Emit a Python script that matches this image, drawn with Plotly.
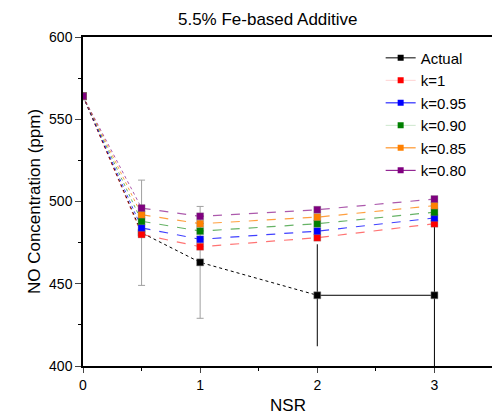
import plotly.graph_objects as go

nsr = [0, 0.5, 1, 2, 3]
actual = [564, 481, 463, 443, 443]
actual_err = [0, 32, 34, 31, 45]
k_labels = ["k=1", "k=0.95", "k=0.90", "k=0.85", "k=0.80"]
k_values = [
    [564, 480, 472.5, 478, 486.5],
    [564, 484, 477, 482, 490],
    [564, 488, 482, 486.5, 493.5],
    [564, 492, 486.5, 490.5, 497.5],
    [564, 496, 491, 495, 501.5],
]
k_colors = ["#ff0000", "#0000ff", "#008000", "#ff8000", "#800080"]
k_plot_line = ["rgba(255,0,0,0.55)", "rgba(0,0,255,0.75)", "rgba(0,128,0,0.6)",
               "rgba(255,128,0,0.75)", "rgba(128,0,128,0.65)"]
k_legend_line = ["rgba(255,0,0,0.18)", "#0000ff", "rgba(0,128,0,0.2)", "#ff8000", "#800080"]

FONT = "Arial, Liberation Sans, sans-serif"
fig = go.Figure()

# error bars (gray for first points, black for later)
fig.add_trace(go.Scatter(
    x=nsr[:3], y=actual[:3], mode="markers",
    marker=dict(color="rgba(0,0,0,0)", size=1),
    error_y=dict(type="data", array=actual_err[:3], color="#a0a0a0", thickness=1, width=3.5),
    showlegend=False, hoverinfo="skip"))
fig.add_trace(go.Scatter(
    x=nsr[3:], y=actual[3:], mode="markers",
    marker=dict(color="rgba(0,0,0,0)", size=1),
    error_y=dict(type="data", array=actual_err[3:], color="#000000", thickness=1, width=0),
    showlegend=False, hoverinfo="skip"))

# actual lines: dotted up to NSR=2, solid from 2 to 3
fig.add_trace(go.Scatter(x=nsr[:4], y=actual[:4], mode="lines",
                         line=dict(color="#000000", width=1, dash="dot"),
                         showlegend=False, hoverinfo="skip"))
fig.add_trace(go.Scatter(x=nsr[3:], y=actual[3:], mode="lines",
                         line=dict(color="#000000", width=1),
                         showlegend=False, hoverinfo="skip"))

fig.add_trace(go.Scatter(x=nsr, y=actual, mode="markers",
                         marker=dict(symbol="square", size=7, color="#000000",
                                     line=dict(color="#888888", width=0.5)),
                         showlegend=False, name="Actual"))

# k series
for lab, vals, pc in zip(k_labels, k_values, k_plot_line):
    fig.add_trace(go.Scatter(x=nsr[:2], y=vals[:2], mode="lines",
                             line=dict(color=pc, width=1, dash="dot"),
                             showlegend=False, hoverinfo="skip"))
    fig.add_trace(go.Scatter(x=nsr[1:], y=vals[1:], mode="lines",
                             line=dict(color=pc, width=1.2, dash="dash"),
                             showlegend=False, hoverinfo="skip"))
for lab, vals, c in zip(k_labels, k_values, k_colors):
    fig.add_trace(go.Scatter(x=nsr, y=vals, mode="markers",
                             marker=dict(symbol="square", size=7, color=c,
                                         line=dict(color="rgba(120,120,120,0.6)", width=0.5)),
                             showlegend=False, name=lab))

# legend entries
fig.add_trace(go.Scatter(x=[None], y=[None], mode="lines+markers", name="Actual",
                         line=dict(color="#000000", width=1),
                         marker=dict(symbol="square", size=6, color="#000000")))
for lab, c, lc in zip(k_labels, k_colors, k_legend_line):
    fig.add_trace(go.Scatter(x=[None], y=[None], mode="lines+markers", name=lab,
                             line=dict(color=lc, width=1),
                             marker=dict(symbol="square", size=6, color=c)))

# page body has an 8px margin, so the figure is offset by 8px
fig.update_layout(
    width=492, height=409,
    margin=dict(l=75, r=5, t=29, b=51),
    paper_bgcolor="white", plot_bgcolor="white",
    font=dict(family=FONT, size=14, color="#000000"),
    title=dict(text="5.5% Fe-based Additive", x=0.528, xanchor="center",
               y=0.973, yanchor="middle", font=dict(size=17, family=FONT)),
    legend=dict(x=0.726, y=0.986, xanchor="left", yanchor="top",
                bgcolor="rgba(0,0,0,0)", font=dict(size=15, family=FONT),
                tracegroupgap=0, itemwidth=30),
    xaxis=dict(range=[0, 3.5], tickvals=[0, 1, 2, 3], ticks="outside", ticklen=5,
               minor=dict(tickvals=[0.5, 1.5, 2.5], ticks="outside", ticklen=3, tickcolor="#000"),
               showline=True, linecolor="#000", linewidth=1.5, mirror=True,
               showgrid=False, zeroline=False, tickfont=dict(size=14),
               title=dict(text="NSR", font=dict(size=17), standoff=8)),
    yaxis=dict(range=[400, 600], tickvals=[400, 450, 500, 550, 600], ticks="outside", ticklen=6,
               minor=dict(tickvals=[425, 475, 525, 575], ticks="outside", ticklen=3, tickcolor="#000"),
               showline=True, linecolor="#000", linewidth=1.5, mirror=True,
               showgrid=False, zeroline=False, tickfont=dict(size=14),
               title=dict(text="NO Concentration (ppm)", font=dict(size=17), standoff=4)),
)

fig.write_html("out.html")
